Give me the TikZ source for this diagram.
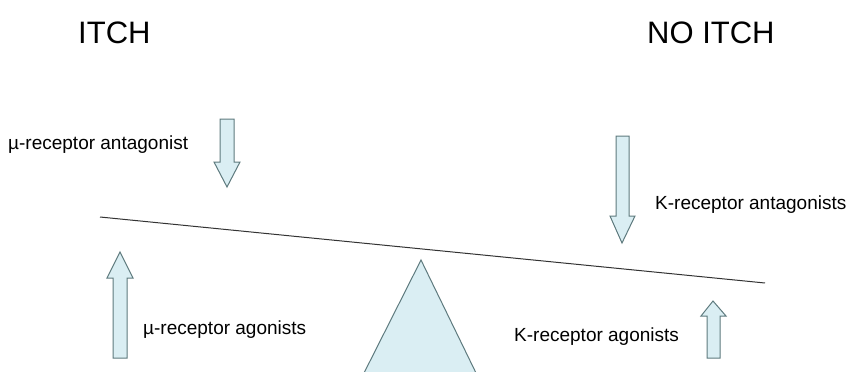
\documentclass[tikz,border=0pt]{standalone}
\usepackage{fontspec}
\setmainfont{Liberation Sans}
\definecolor{paleblue}{HTML}{DAEEF3}
\definecolor{edgegray}{HTML}{5E7A7E}
\tikzset{
  label text/.style={anchor=base west, inner sep=0pt, font=\fontsize{19}{23}\selectfont},
  title text/.style={anchor=base west, inner sep=0pt, font=\fontsize{31}{37}\selectfont},
  blockarrow/.style={draw=edgegray, fill=paleblue, line width=1pt, line join=miter},
}
\begin{document}
\begin{tikzpicture}[x=1pt, y=-1pt]
	\useasboundingbox (0,0) rectangle (847,372);
	\fill[white] (0,0) rectangle (847,372);
	% titres
	\node[title text] (itch) at (78,43) {ITCH};
	\node[title text] (noitch) at (647,43) {NO ITCH};
	% fleches du haut
	\draw[blockarrow] (220,119) -- (234,119) -- (234,162) -- (240,162) -- (227,187)
		-- (214,162) -- (220,162) -- cycle;
	\node[label text] (muant) at (8,149) {µ-receptor antagonist};
	\draw[blockarrow] (616,136) -- (629,136) -- (629,216) -- (635,216) -- (622,243)
		-- (610,216) -- (616,216) -- cycle;
	\node[label text] (kant) at (655,209) {K-receptor antagonists};
	% le fleau
	\coordinate (beamL) at (100,217);
	\coordinate (beamR) at (765,283);
	\draw[line width=1pt, black!80] (beamL) -- (beamR);
	% le pivot
	\begin{scope}
		\clip (0,0) rectangle (847,372);
		\draw[blockarrow] (421,260) -- (477,375) -- (363,375) -- cycle;
	\end{scope}
	% fleches du bas
	\draw[blockarrow] (113,358) -- (113,278) -- (107,278) -- (120,252) -- (133,278)
		-- (127,278) -- (127,358) -- cycle;
	\node[label text] (muag) at (143,334) {µ-receptor agonists};
	\draw[blockarrow] (707,358) -- (707,316) -- (701,316) -- (713,301) -- (726,316)
		-- (720,316) -- (720,358) -- cycle;
	\node[label text] (kag) at (514,341) {K-receptor agonists};
\end{tikzpicture}
\end{document}
